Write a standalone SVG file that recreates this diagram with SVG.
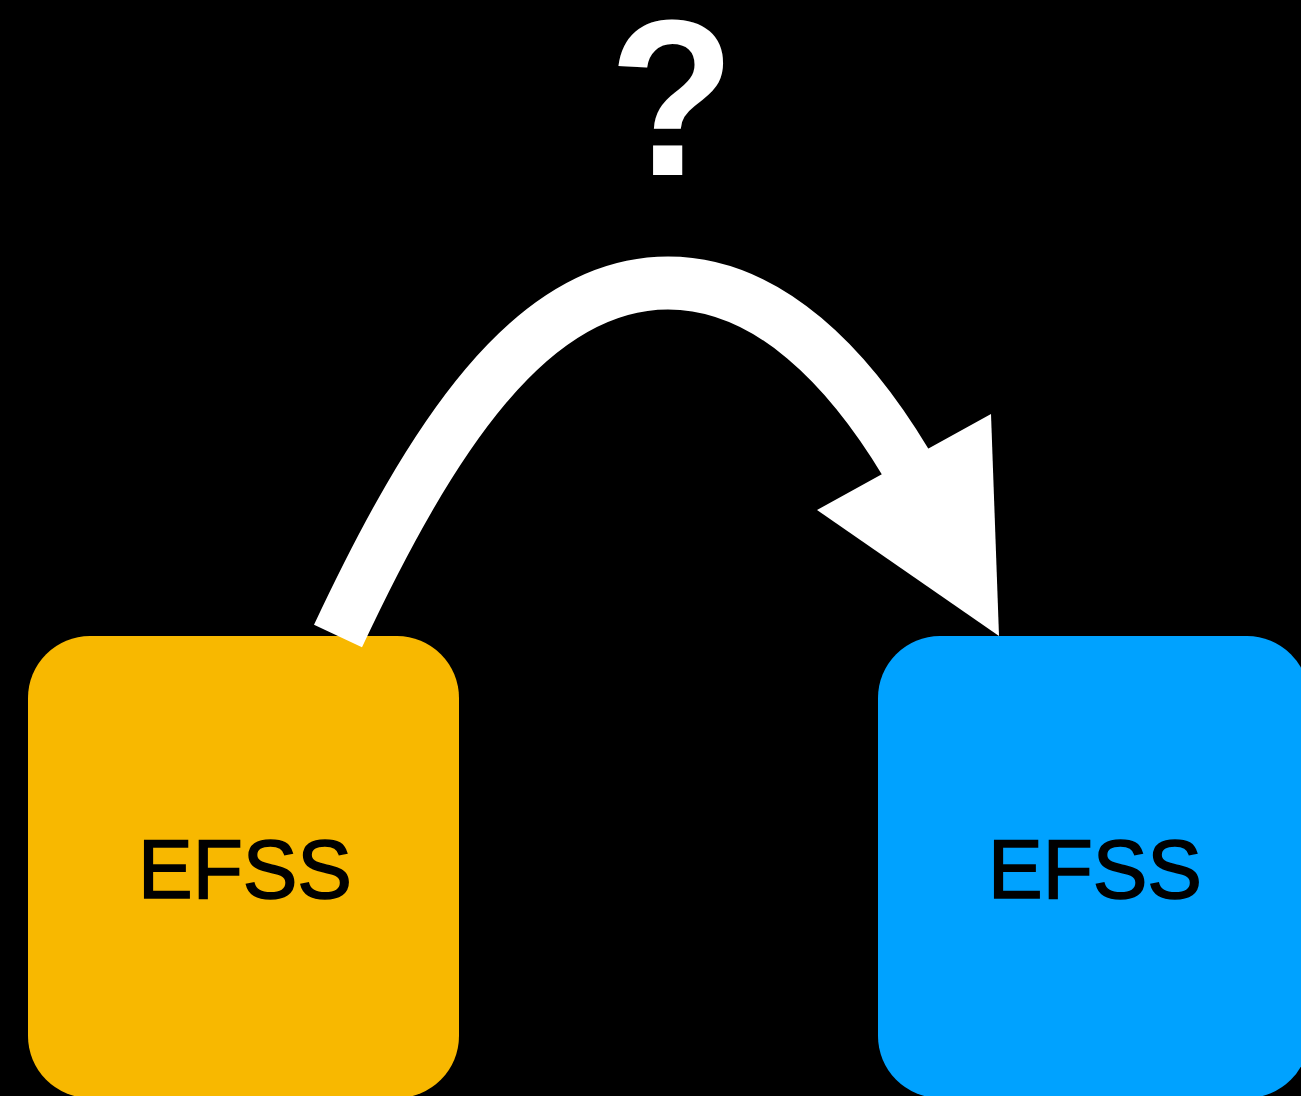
<svg xmlns="http://www.w3.org/2000/svg" width="1301" height="1096" viewBox="0 0 1301 1096">
<style>
.label{font-family:"Liberation Sans",Arial,sans-serif;font-size:84px;fill:#000;stroke:#000;stroke-width:1.6;text-anchor:middle}
.q{font-family:"Liberation Sans",Arial,sans-serif;font-weight:bold;font-size:222px;fill:#fff;text-anchor:middle}
.shaft{fill:none;stroke:#fff;stroke-width:53}
</style>
<rect width="1301" height="1096" fill="#000"/>
<g id="question">
<text class="q" x="672" y="175" textLength="126" lengthAdjust="spacingAndGlyphs">?</text>
</g>
<g id="node-left">
<rect x="28" y="636" width="431" height="462" rx="62" ry="62" fill="#f8b800"/>
<text class="label" x="245" y="898" textLength="214" lengthAdjust="spacingAndGlyphs">EFSS</text>
</g>
<g id="node-right">
<rect x="878" y="636" width="431" height="462" rx="62" ry="62" fill="#00a2ff"/>
<text class="label" x="1095" y="898" textLength="214" lengthAdjust="spacingAndGlyphs">EFSS</text>
</g>
<g id="connectors">
<path class="shaft" d="M338,636 C430,440 530,283 668,283 C770,283 850,370 906,463"/>
<polygon points="817,510 991,414 999,636" fill="#fff"/>
</g>
</svg>
